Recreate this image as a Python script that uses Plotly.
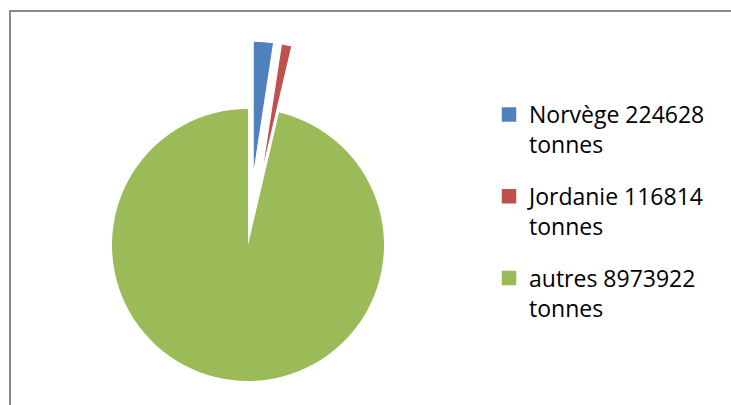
import math
import plotly.graph_objects as go

# ---- data ----
labels = ["Norvège 224628<br>tonnes", "Jordanie 116814<br>tonnes", "autres 8973922<br>tonnes"]
values = [224628, 116814, 8973922]
colors = ["#4F81BD", "#C0504D", "#9BBB59"]
exploded = [True, True, False]

# ---- geometry / style ----
W, H = 731, 405
CX, CY, R = 248, 245, 136      # pie centre and radius in px
PULL = 0.5                      # explosion, fraction of radius
FONT = dict(family="Open Sans", size=23, color="#000000")
TRANSP = "rgba(0,0,0,0)"


def dom(cx, cy, r):
    return dict(x=[(cx - r) / W, (cx + r) / W],
                y=[1 - (cy + r) / H, 1 - (cy - r) / H])


fig = go.Figure()

# legend-only tiny pies, hidden beneath the main pie
for i, (lab, val, col) in enumerate(zip(labels, values, colors)):
    fig.add_trace(go.Pie(
        labels=[lab], values=[val],
        marker=dict(colors=[col], line=dict(color=col, width=2.5)),
        domain=dom(CX - 60, CY + 40, 0.5), legendgroup=f"g{i}",
        textinfo="none", hoverinfo="skip", showlegend=True, sort=False))

# main pie (non-exploded slices)
fig.add_trace(go.Pie(
    labels=labels, values=values,
    marker=dict(colors=[TRANSP if e else c for c, e in zip(colors, exploded)],
                line=dict(width=0)),
    domain=dom(CX, CY, R), sort=False, direction="clockwise", rotation=0,
    textinfo="none", hoverinfo="label+value", showlegend=False))

# exploded slices, each as its own shifted pie
total = sum(values)
cum = 0.0
for i, (v, e) in enumerate(zip(values, exploded)):
    frac = v / total
    if e:
        mid = 2 * math.pi * (cum + frac / 2)
        cx = CX + PULL * R * math.sin(mid)
        cy = CY - PULL * R * math.cos(mid)
        fig.add_trace(go.Pie(
            labels=labels, values=values,
            marker=dict(colors=[colors[j] if j == i else TRANSP for j in range(len(values))],
                        line=dict(color="white", width=[1.2 if j == i else 0 for j in range(len(values))])),
            domain=dom(cx, cy, R), sort=False, direction="clockwise", rotation=0,
            textinfo="none", hoverinfo="label+value", showlegend=False))
    cum += frac

fig.update_layout(
    width=W, height=H,
    margin=dict(l=0, r=0, t=0, b=0),
    paper_bgcolor="white", plot_bgcolor="white",
    font=FONT,
    legend=dict(x=489 / W, y=1 - 93 / H, xanchor="left", yanchor="top",
                font=FONT, valign="top", tracegroupgap=19,
                bgcolor="rgba(255,255,255,0)", itemclick=False, itemdoubleclick=False),
    shapes=[dict(type="path", xref="paper", yref="paper",
                 path=f"M {10 / W} 0 L {10 / W} {1 - 11 / H} L 1 {1 - 11 / H}",
                 line=dict(color="#898989", width=2))],
)

fig.write_html("out.html")
